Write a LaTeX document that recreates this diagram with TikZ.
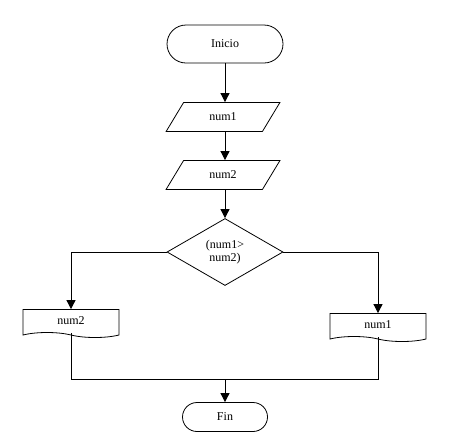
\documentclass[tikz,border=0pt]{standalone}
\usepackage{fontspec}
\setmainfont{Liberation Serif}
\usetikzlibrary{shapes.geometric,shapes.misc,shapes.symbols,arrows.meta}
\begin{document}
\begin{tikzpicture}[x=1pt,y=-1pt,font=\fontsize{12}{13}\selectfont,
  line width=0.8pt,
  term/.style={draw, rounded rectangle, inner sep=0pt},
  iobox/.style={draw, trapezium, trapezium left angle=53, trapezium right angle=127,
    trapezium stretches=true, minimum width=114pt, minimum height=29pt, inner sep=0pt},
  decide/.style={draw, diamond, minimum width=116pt, minimum height=67pt, inner sep=0pt, align=center},
  docbox/.style={draw, tape, tape bend top=none, tape bend bottom=out and in,
    tape bend height=5pt, minimum width=96pt, minimum height=28pt, inner sep=0pt},
  arr/.style={-{Triangle[width=9pt,length=9pt]}}]
\useasboundingbox (0,0) rectangle (449,440);
\node[term, minimum width=116pt, minimum height=38pt] (inicio) at (225,44) {Inicio};
\node[iobox] (num1) at (223,117) {num1};
\node[iobox] (num2) at (223,175) {num2};
\node[decide] (cmp) at (225,252) {(num1>\\num2)};
\node[docbox] (out2) at (71,321) {num2};
\node[docbox] (out1) at (378,325) {num1};
\node[term, minimum width=85pt, minimum height=29pt] (fin) at (225,417) {Fin};
\coordinate (merge) at (225,379);

\path[draw,arr] (inicio.south) -- (inicio.south |- num1.north);
\path[draw,arr] (num1.south -| inicio.south) -- (inicio.south |- num2.north);
\path[draw,arr] (num2.south -| inicio.south) -- (cmp.north);
\path[draw,arr] (cmp.west) -| (out2.north);
\path[draw,arr] (cmp.east) -| (out1.north);
\path[draw] (out2.south) |- (merge) -| (out1.south);
\path[draw,arr] (merge) -- (fin.north);
\end{tikzpicture}
\end{document}
